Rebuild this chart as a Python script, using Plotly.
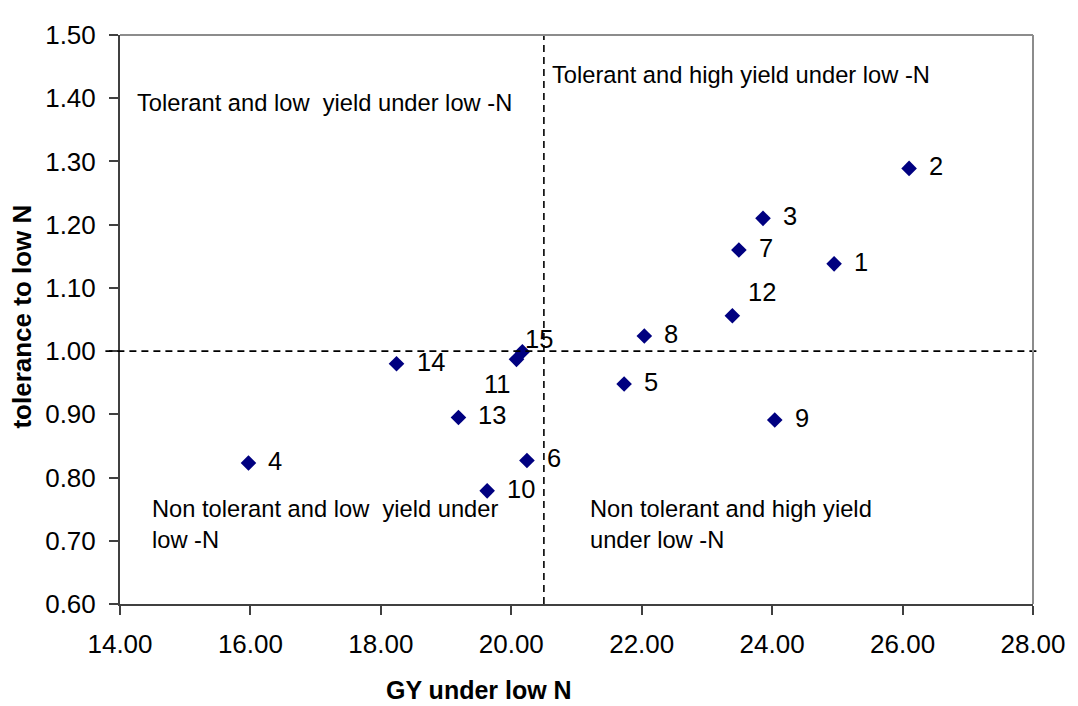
import plotly.graph_objects as go

# ---- data ----
genotypes = ["1", "2", "3", "4", "5", "6", "7", "8", "9", "10", "11", "12", "13", "14", "15"]
gy_low_n = [24.95, 26.10, 23.86, 15.97, 21.73, 20.24, 23.49, 22.04, 24.04, 19.63, 20.08, 23.39, 19.19, 18.24, 20.17]
tolerance = [1.138, 1.289, 1.210, 0.823, 0.948, 0.827, 1.160, 1.024, 0.891, 0.779, 0.987, 1.056, 0.895, 0.980, 0.999]

x_ticks = [14, 16, 18, 20, 22, 24, 26, 28]
y_ticks = [0.60, 0.70, 0.80, 0.90, 1.00, 1.10, 1.20, 1.30, 1.40, 1.50]

gy_threshold = 20.5
tol_threshold = 1.0

quadrant_texts = [
    "Tolerant and low\u00a0 yield under low -N",
    "Tolerant and high yield under low -N",
    "Non tolerant and low\u00a0 yield under<br>low -N",
    "Non tolerant and high yield<br>under low -N",
]

FONT = "Arial, Liberation Sans, sans-serif"
AXIS_DARK = "#404040"
BORDER_GRAY = "#8c8c8c"

fig = go.Figure()
fig.add_trace(go.Scatter(
    x=gy_low_n, y=tolerance, mode="markers",
    marker=dict(symbol="diamond", size=12, color="#000080", line=dict(width=0)),
    showlegend=False, cliponaxis=False,
))

# data labels (per-label offsets in pixels)
label_offsets = {"12": (14, 24, "left"), "15": (1, 13, "left"), "11": (-20, -25, "center")}
for g, xv, yv in zip(genotypes, gy_low_n, tolerance):
    dx, dy, anchor = label_offsets.get(g, (18, 2, "left"))
    fig.add_annotation(x=xv, y=yv, text=g, showarrow=False, xanchor=anchor, yanchor="middle",
                       xshift=dx, yshift=dy, font=dict(family=FONT, size=25.5, color="black"))

# quadrant descriptions
quad_pos = [(14.23, 1.392), (20.6, 1.436), (14.46, 0.7264), (21.18, 0.7264)]
for t, (qx, qy) in zip(quadrant_texts, quad_pos):
    fig.add_annotation(x=qx, y=qy, text=t, showarrow=False, xanchor="left", yanchor="middle",
                       align="left", font=dict(family=FONT, size=23.7, color="black"))

# threshold dashed lines
fig.add_shape(type="line", xref="x", yref="y domain", x0=gy_threshold, x1=gy_threshold, y0=0, y1=1,
              line=dict(color="black", width=1.6, dash="7px,5px"))
fig.add_shape(type="line", xref="x domain", yref="y", x0=-0.016, x1=1.009, y0=tol_threshold, y1=tol_threshold,
              line=dict(color="black", width=1.6, dash="7px,5px"))

# light top/right plot border
fig.add_shape(type="line", xref="paper", yref="paper", x0=0, x1=1, y0=1, y1=1,
              line=dict(color=BORDER_GRAY, width=2))
fig.add_shape(type="line", xref="paper", yref="paper", x0=1, x1=1, y0=0, y1=1,
              line=dict(color=BORDER_GRAY, width=2))

# axis titles
fig.add_annotation(xref="paper", yref="paper", x=0.393, y=-0.1512, text="<b>GY under low N</b>",
                   showarrow=False, xanchor="center", yanchor="middle",
                   font=dict(family=FONT, size=25, color="black"))
fig.add_annotation(xref="paper", yref="paper", x=-0.1068, y=0.506, text="<b>tolerance to low N</b>",
                   showarrow=False, xanchor="center", yanchor="middle", textangle=-90,
                   font=dict(family=FONT, size=26, color="black"))

fig.update_xaxes(range=[x_ticks[0], x_ticks[-1]], tickvals=x_ticks, tickformat=".2f",
                 showgrid=False, zeroline=False, showline=True, linecolor=AXIS_DARK, linewidth=2,
                 ticks="outside", ticklen=9, tickwidth=1.5, tickcolor=AXIS_DARK,
                 tickfont=dict(family=FONT, size=26, color="black"), ticklabelstandoff=7,
                 ticklabeloverflow="allow")
fig.update_yaxes(range=[y_ticks[0], y_ticks[-1]], tickvals=y_ticks, tickformat=".2f",
                 showgrid=False, zeroline=False, showline=True, linecolor=AXIS_DARK, linewidth=2,
                 ticks="outside", ticklen=9, tickwidth=1.5, tickcolor=AXIS_DARK,
                 tickfont=dict(family=FONT, size=26, color="black"), ticklabelstandoff=8,
                 ticklabeloverflow="allow")

# the page body has an 8px default margin, so the figure is 8px smaller on each axis
fig.update_layout(
    width=1070, height=698,
    margin=dict(l=112, r=40, t=14, b=102),
    paper_bgcolor="white", plot_bgcolor="white",
    font=dict(family=FONT, color="black"),
)

fig.write_html("out.html")
